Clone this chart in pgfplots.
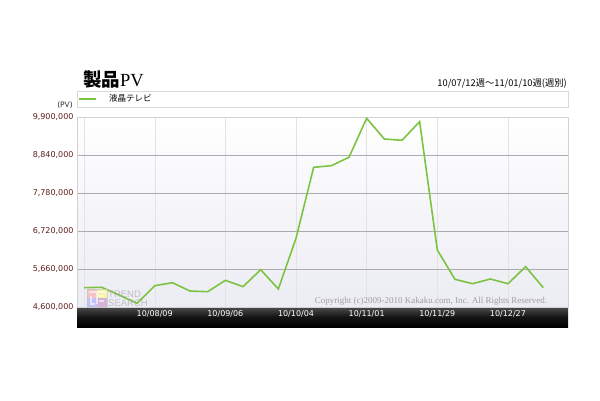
\documentclass[border=0pt]{standalone}
\usepackage{fontspec}
\usepackage{pgfplots}
\pgfplotsset{compat=1.18}
\setmainfont{DejaVu Sans}
\newfontfamily\jp{Noto Sans CJK JP}
\newfontfamily\serif{Liberation Serif}
\newfontfamily\lsans{Liberation Sans}
\definecolor{pvgreen}{RGB}{125,195,66}
\definecolor{ticklab}{RGB}{95,30,30}
\begin{document}
\begin{tikzpicture}
\path[fill=white] (0pt,0pt) rectangle (600pt,400pt);
\shade[top color=black!70, bottom color=black, middle color=black!92] (77pt,73pt) rectangle (568pt,93pt);
\draw[gray!30] (77pt,293pt) rectangle (568pt,309pt);
\node[anchor=base west, font=\jp\bfseries\fontsize{18.5}{20}\selectfont, inner sep=0] at (83pt,314pt) {製品{\serif\mdseries PV}};
\node[anchor=base east, font=\jp\fontsize{9.3}{10}\selectfont, inner sep=0] at (567pt,313pt) {10/07/12週～11/01/10週(週別)};
\node[anchor=east, font=\fontsize{7.5}{9}\selectfont, text=black!80, inner sep=0] at (73pt,295pt) {(PV)};
\begin{axis}[
  at={(77pt,93pt)}, anchor=south west, scale only axis,
  width=491pt, height=190pt,
  xmin=-0.4, xmax=27.4, ymin=4600000, ymax=9900000,
  xtick={0,4,8,12,16,20,24},
  xticklabels={,10/08/09,10/09/06,10/10/04,10/11/01,10/11/29,10/12/27},
  ytick={4600000,5660000,6720000,7780000,8840000,9900000},
  scaled y ticks=false,
  xticklabel style={text=white, font=\fontsize{8}{9}\selectfont},
  yticklabel style={text=ticklab, font=\fontsize{8}{9}\selectfont},
  major tick length=0pt,
  grid=major,
  x grid style={gray!22},
  y grid style={gray!65, line width=0.8pt},
  axis line style={gray!35},
  axis background/.style={top color=white, bottom color={rgb,255:red,236;green,236;blue,244}},
  /pgf/number format/.cd, fixed, 1000 sep={,}, assume math mode=true,
  /pgfplots/.cd,
  legend style={at={(rel axis cs:0,1)}, anchor=west, xshift=0pt, yshift=18pt, draw=none, fill=none,
    font=\jp\fontsize{8.5}{10}\selectfont, inner sep=1pt},
  legend image code/.code={\draw[#1, line width=2pt] (0pt,0pt) -- (17pt,0pt);},
  legend cell align=left,
]
\addplot[pvgreen, line width=1.6pt] coordinates {
(0,5138000) (1,5150000) (2,4930000) (3,4703000) (4,5194000) (5,5278000)
(6,5046000) (7,5027000) (8,5344000) (9,5167000) (10,5641000) (11,5102000)
(12,6516000) (13,8497000) (14,8542000) (15,8776000) (16,9864000) (17,9286000)
(18,9250000) (19,9769000) (20,6190000) (21,5372000) (22,5250000) (23,5381000)
(24,5250000) (25,5724000) (26,5138000)
};
\addlegendentry{\hspace*{10pt}液晶テレビ}
\end{axis}
\node[font=\serif\fontsize{9}{10}\selectfont, text=gray!75, anchor=base, inner sep=0] at (431pt,97pt) {Copyright (c)2009-2010 Kakaku.com, Inc. All Rights Reserved.};
\begin{scope}[opacity=0.6]
\fill[red!35] (87pt,102pt) rectangle (97pt,111pt);
\fill[yellow!55] (97pt,102pt) rectangle (107pt,111pt);
\fill[blue!35] (87pt,93pt) rectangle (97pt,102pt);
\fill[violet!45] (97pt,93pt) rectangle (107pt,102pt);
\draw[white, line width=1.2pt] (89pt,108pt) -- (105pt,108pt) (97pt,108pt) -- (97pt,96pt) (91pt,104pt) -- (91pt,96pt) -- (95pt,96pt) (99pt,104pt) -- (104pt,104pt) (99pt,99pt) -- (104pt,99pt);
\draw[gray!50] (87pt,93pt) rectangle (107pt,111pt);
\node[anchor=base west, font=\lsans\fontsize{9.5}{10}\selectfont, text=gray!75, inner sep=0] at (108pt,103pt) {TREND};
\node[anchor=base west, font=\lsans\fontsize{9.5}{10}\selectfont, text=gray!75, inner sep=0] at (108pt,94pt) {SEARCH};
\end{scope}
\end{tikzpicture}
\end{document}
